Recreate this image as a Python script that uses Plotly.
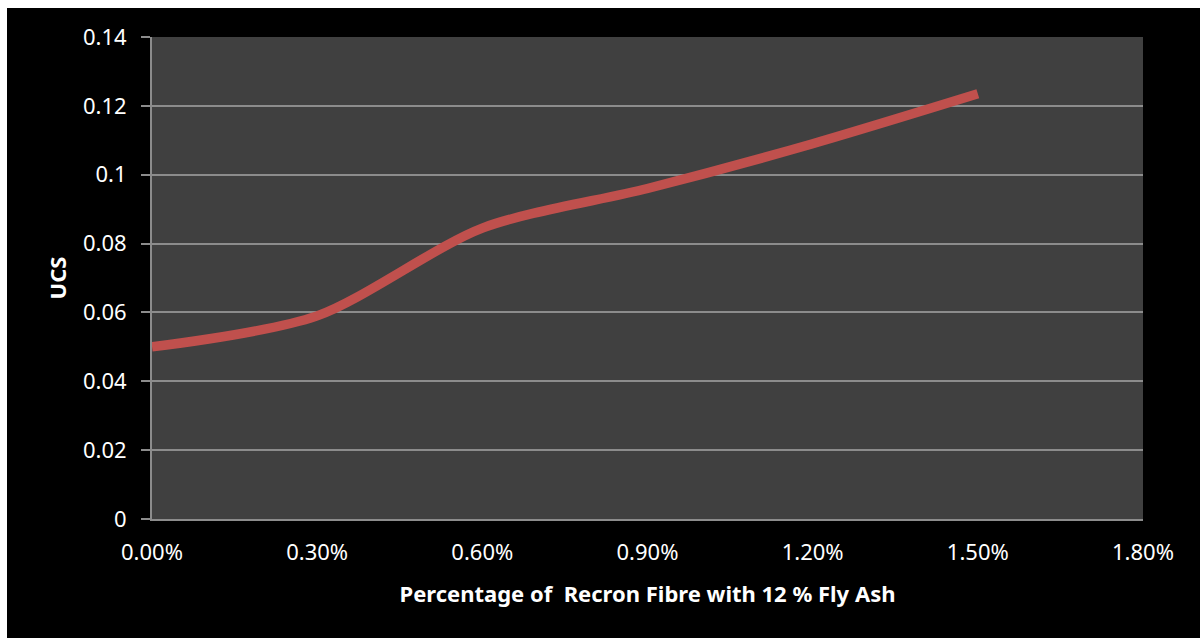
import plotly.graph_objects as go

# Fibre content (fraction) and unconfined compressive strength
fibre_pct = [0.0, 0.003, 0.006, 0.009, 0.012, 0.015]
ucs = [0.050, 0.059, 0.0845, 0.096, 0.109, 0.1235]

x_ticks = [0.0, 0.003, 0.006, 0.009, 0.012, 0.015, 0.018]
y_ticks = [0, 0.02, 0.04, 0.06, 0.08, 0.1, 0.12, 0.14]
y_tick_text = ["0", "0.02", "0.04", "0.06", "0.08", "0.1", "0.12", "0.14"]

FONT = "Noto Sans"
SIZE = 22

fig = go.Figure()
fig.add_trace(go.Scatter(
    x=fibre_pct, y=ucs, mode="lines",
    line=dict(color="#C0504D", width=9.5, shape="spline", smoothing=0.8),
    hoverinfo="skip",
))

fig.update_layout(
    width=1200, height=638,
    margin=dict(l=152, r=57, t=37, b=119),
    paper_bgcolor="#000000",
    plot_bgcolor="#404040",
    showlegend=False,
    font=dict(family=FONT, color="#FFFFFF", size=SIZE),
    xaxis=dict(
        range=[0, 0.018], tickvals=x_ticks, tickformat=".2%",
        showgrid=False, zeroline=False,
        showline=True, linecolor="#8C8C8C", linewidth=2,
        ticks="", ticklabelstandoff=13,
        tickfont=dict(family=FONT, size=SIZE, color="#FFFFFF"),
        title=dict(text="<b>Percentage of  Recron Fibre with 12 % Fly Ash</b>",
                   font=dict(family=FONT, size=SIZE, color="#FFFFFF"), standoff=21),
    ),
    yaxis=dict(
        range=[0, 0.14], tickvals=y_ticks, ticktext=y_tick_text,
        showgrid=True, gridcolor="#8C8C8C", gridwidth=1.5,
        zeroline=False,
        showline=True, linecolor="#8C8C8C", linewidth=2,
        ticks="outside", ticklen=9, tickcolor="#8C8C8C", tickwidth=1.5,
        ticklabelstandoff=10,
        tickfont=dict(family=FONT, size=SIZE, color="#FFFFFF"),
        title=dict(text="<b>UCS</b>",
                   font=dict(family=FONT, size=SIZE, color="#FFFFFF"), standoff=10),
    ),
)

# White page edges along the top and left sides
fig.add_shape(type="rect", xref="paper", yref="paper",
              x0=-152 / 991, x1=1.06, y0=1 + 29 / 482, y1=1 + 37 / 482,
              fillcolor="#FFFFFF", line_width=0, layer="above")
fig.add_shape(type="rect", xref="paper", yref="paper",
              x0=-152 / 991, x1=-145 / 991, y0=-119 / 482, y1=1 + 37 / 482,
              fillcolor="#FFFFFF", line_width=0, layer="above")

fig.write_html("out.html")
